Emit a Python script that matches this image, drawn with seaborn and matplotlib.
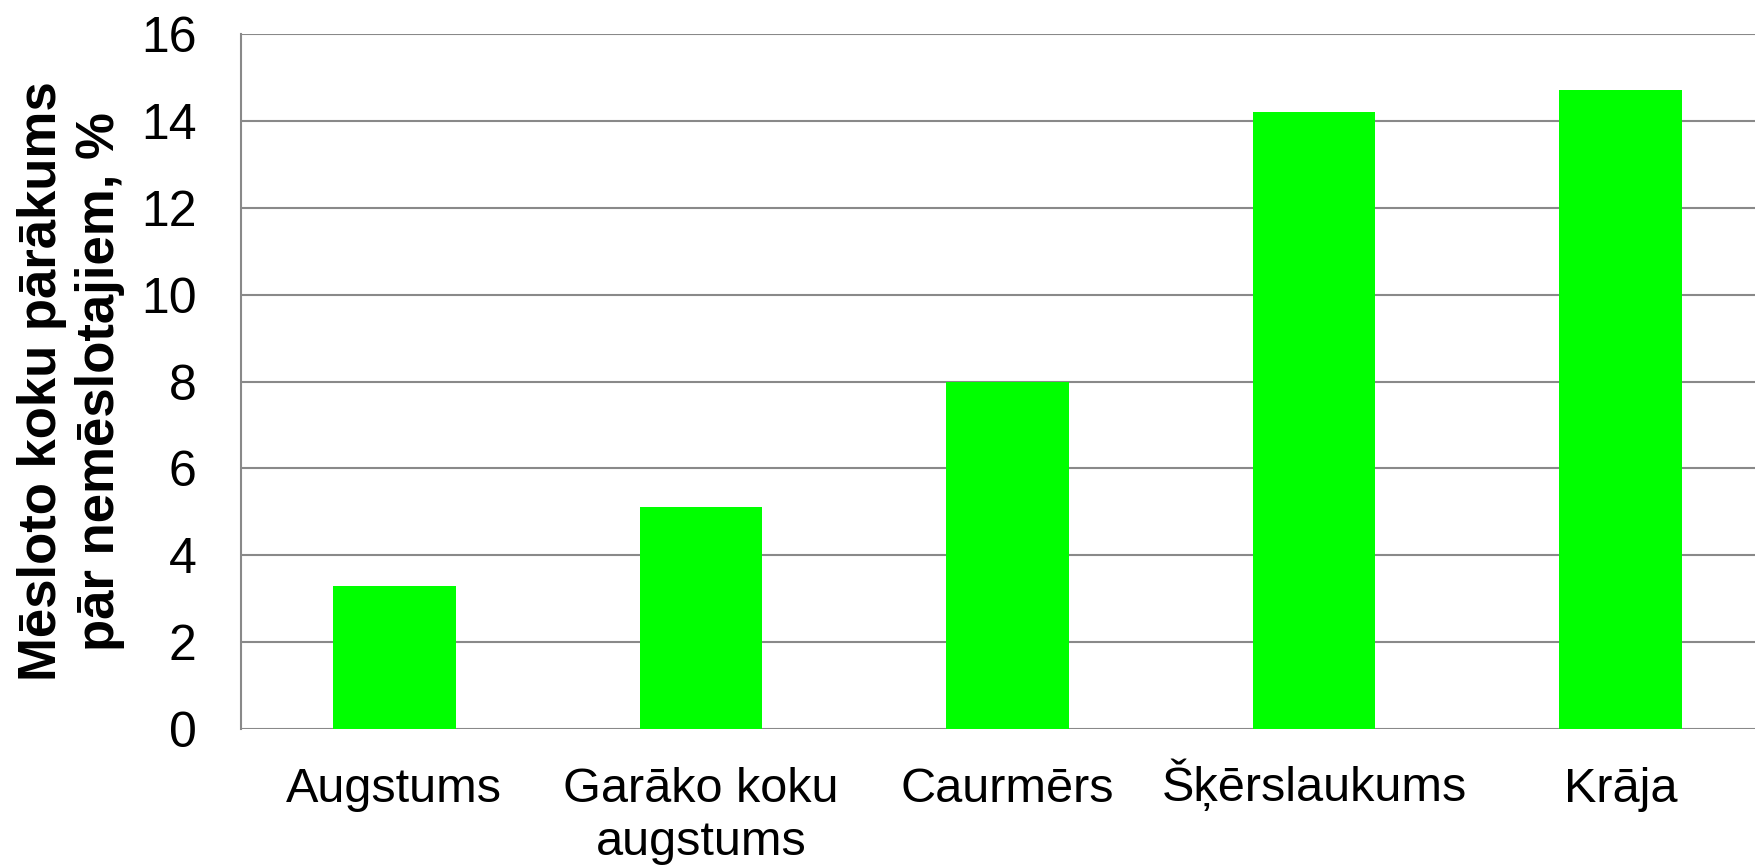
import pandas as pd
import seaborn as sns
import matplotlib.pyplot as plt
from matplotlib import transforms

# values
categories = ["Augstums", "Garāko koku\naugstums", "Caurmērs", "Šķērslaukums", "Krāja"]
excess_pct = [3.3, 5.1, 8.0, 14.2, 14.7]
y_ticks = [0, 2, 4, 6, 8, 10, 12, 14, 16]

df = pd.DataFrame({"param": categories, "value": excess_pct})

sns.set_style("white")
plt.rcParams['font.family'] = ['Liberation Sans', 'DejaVu Sans']
plt.rcParams['text.color'] = 'black'
plt.rcParams['xtick.labelcolor'] = 'black'
plt.rcParams['ytick.labelcolor'] = 'black'
plt.rcParams['axes.labelcolor'] = 'black'

grid_col = "#898989"

fig = plt.figure(figsize=(17.55, 8.67), dpi=100)
# axes runs slightly past the right edge, as in the original
ax = fig.add_axes([241 / 1755, 1 - 729 / 867, 1533 / 1755, 695 / 867])

sns.barplot(data=df, x="param", y="value", color="#00ff00", saturation=1,
            width=0.4, ax=ax, zorder=3)
for p in ax.patches:
    p.set_edgecolor("none")

ax.set_xlim(-0.5, len(categories) - 0.5)
ax.set_ylim(0, 16)
ax.set_yticks(y_ticks)
ax.yaxis.grid(True, color=grid_col, linewidth=1.5, zorder=0)
ax.set_axisbelow(True)

for side in ["top", "right", "bottom"]:
    ax.spines[side].set_visible(False)
ax.spines["left"].set_color(grid_col)
ax.spines["left"].set_linewidth(1.5)

ax.tick_params(axis="y", length=10, width=1.5, color=grid_col, pad=22, labelsize=36)
ax.tick_params(axis="x", length=0, pad=27, labelsize=35)
for lbl in ax.get_xticklabels():
    lbl.set_linespacing(1.25)
    # the caron on Š makes this label sit lower than the rest, nudge it up
    if lbl.get_text().startswith("Š"):
        lbl.set_transform(transforms.offset_copy(lbl.get_transform(), fig=fig,
                                                 y=6, units="points"))

ax.set_xlabel("")
ax.set_ylabel("Mēsloto koku pārākums\npār nemēslotajiem, %", fontsize=38,
              fontweight="bold", linespacing=1.2)
ax.yaxis.set_label_coords(-0.0757, 0.5)

plt.savefig("out.png", dpi=100)
